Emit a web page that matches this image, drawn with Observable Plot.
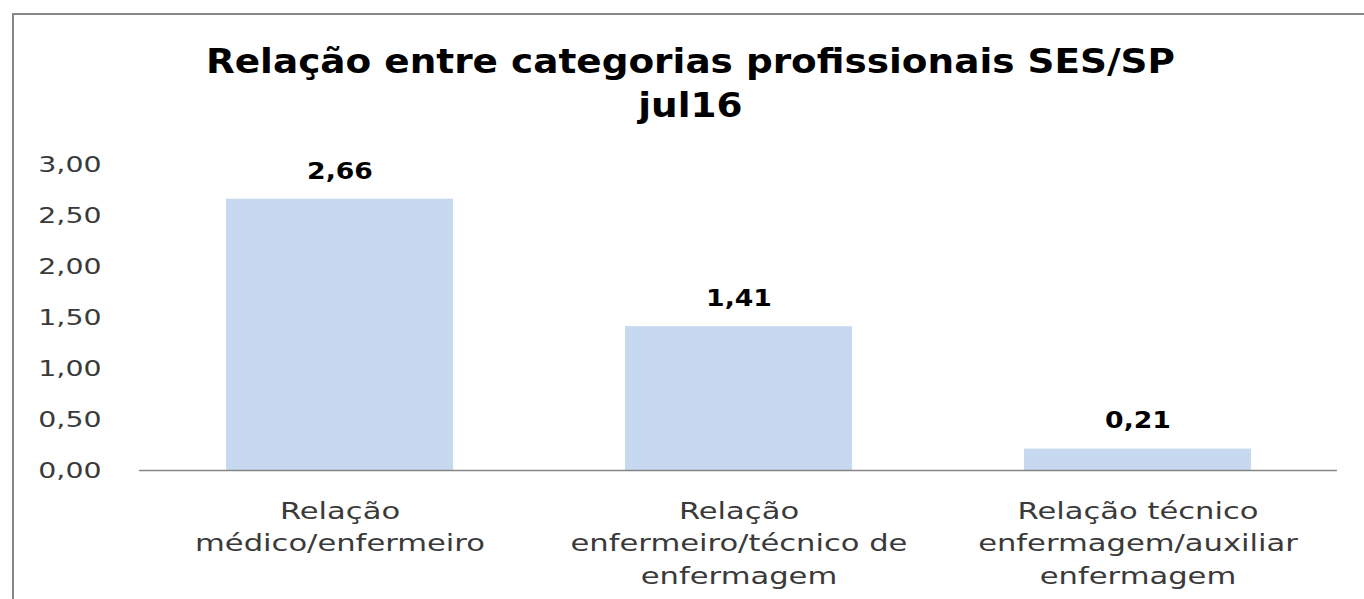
<!DOCTYPE html>
<html>
<head>
<meta charset="utf-8">
<script src="https://cdn.jsdelivr.net/npm/d3@7"></script>
<script src="https://cdn.jsdelivr.net/npm/@observablehq/plot@0.6"></script>
<style>
  html, body { margin: 0; padding: 0; background: #fff; width: 1364px; height: 599px; overflow: hidden; }
  #frame { position: absolute; left: 12px; top: 13px; width: 2000px; height: 2000px;
           border-left: 2px solid #878787; border-top: 2px solid #878787; }
  #title { position: absolute; left: 0; top: 39px; width: 1380px; text-align: center;
           font-family: "DejaVu Sans", sans-serif; font-weight: bold; font-size: 34px;
           line-height: 44px; color: #000; }
  #title span { display: inline-block; transform: scaleX(1.1); transform-origin: center; white-space: nowrap; }
  #chart { position: absolute; left: 0; top: 135px; }
</style>
</head>
<body>
<div id="frame"></div>
<div id="title"><span>Relação entre categorias profissionais SES/SP</span><br><span>jul16</span></div>
<div id="chart"></div>
<script>
const categories = [
  "Relação médico/enfermeiro",
  "Relação enfermeiro/técnico de enfermagem",
  "Relação técnico enfermagem/auxiliar enfermagem"
];
const axisLabels = [
  "Relação\nmédico/enfermeiro",
  "Relação\nenfermeiro/técnico de\nenfermagem",
  "Relação técnico\nenfermagem/auxiliar\nenfermagem"
];
const values = [2.66, 1.41, 0.21];
const yTicks = [0, 0.5, 1, 1.5, 2, 2.5, 3];

const fmt = v => d3.format(".2f")(v).replace(".", ",");
const data = categories.map((c, i) => ({cat: c, value: values[i], label: axisLabels[i]}));

const plot = Plot.plot({
  width: 1364,
  height: 464,
  marginLeft: 139,
  marginRight: 27,
  marginTop: 29,
  marginBottom: 129,
  style: {fontFamily: "DejaVu Sans, sans-serif", background: "transparent", overflow: "visible"},
  x: {domain: categories, paddingInner: 0.4315, paddingOuter: 0.2157, axis: null},
  y: {domain: [0, 3], axis: null},
  marks: [
    Plot.barY(data, {x: "cat", y: "value", fill: "#c6d9f1"}),
    Plot.ruleY([0], {stroke: "#868686", strokeWidth: 1.3}),
    Plot.axisY({ticks: yTicks, tickSize: 0, tickPadding: 38, tickFormat: fmt, label: null,
                fontSize: 22, fill: "#3a3a3a"}),
    Plot.text(data, {x: "cat", y: "value", text: d => fmt(d.value), dy: -28,
                     fontSize: 23, fontWeight: "bold", fill: "#000"}),
    Plot.text(data, {x: "cat", y: d => 0, text: "label", lineAnchor: "top", dy: 25,
                     lineHeight: 1.42, fontSize: 23, fill: "#3a3a3a"})
  ]
});
document.getElementById("chart").appendChild(plot);

function widen(el, sx) {
  const len = el.getComputedTextLength();
  el.setAttribute("textLength", (len * sx).toFixed(2));
  el.setAttribute("lengthAdjust", "spacingAndGlyphs");
}
plot.querySelectorAll("text").forEach(t => {
  const cs = getComputedStyle(t);
  const fs = parseFloat(cs.fontSize);
  const bold = cs.fontWeight === "bold" || +cs.fontWeight >= 600;
  let sx = 1;
  if (fs === 22) sx = 1.29;
  else if (fs === 23 && bold) sx = 1.16;
  else if (fs === 23) sx = 1.33;
  if (sx === 1) return;
  const spans = t.querySelectorAll("tspan");
  if (spans.length) spans.forEach(s => widen(s, sx));
  else widen(t, sx);
});
</script>
</body>
</html>
